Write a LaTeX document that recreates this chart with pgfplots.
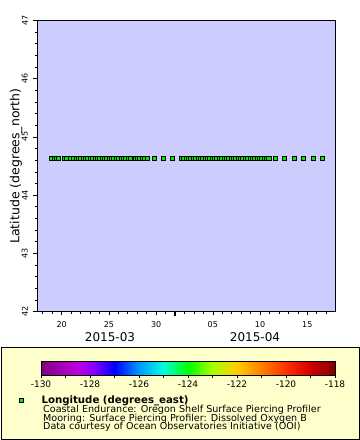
\documentclass[border=0pt]{standalone}
\usepackage{fontspec}
\setmainfont{DejaVu Sans}
\usepackage{pgfplots}
\pgfplotsset{compat=1.18}
\usepackage{pgfplotstable}
\pgfplotsset{/pgf/number format/assume math mode=true}

\definecolor{plotbg}{RGB}{204,204,255}
\definecolor{legbg}{RGB}{255,255,204}
\definecolor{mkgreen}{RGB}{0,235,0}

\pgfplotsset{
 colormap={erd}{rgb255(0)=(128,0,128) rgb255(15)=(192,0,224) rgb255(22)=(128,0,255) rgb255(30)=(0,0,255) rgb255(40)=(0,153,255) rgb255(50)=(0,255,221) rgb255(60)=(0,255,0) rgb255(70)=(170,255,0) rgb255(80)=(255,204,0) rgb255(90)=(255,128,0) rgb255(100)=(255,48,0) rgb255(110)=(208,0,0) rgb255(120)=(128,0,0)}
}

% x = day counted from 2015-03-00 (so 32 = 2015-04-01)
\pgfplotstableread{
x y
18.94 44.637
19.19 44.637
19.44 44.637
19.69 44.637
20.27 44.637
20.52 44.637
20.88 44.637
21.27 44.637
21.52 44.637
21.77 44.637
22.02 44.637
22.27 44.637
22.52 44.637
22.77 44.637
23.02 44.637
23.27 44.637
23.52 44.637
23.77 44.637
24.02 44.637
24.27 44.637
24.52 44.637
24.77 44.637
25.02 44.637
25.27 44.637
25.52 44.637
25.77 44.637
26.02 44.637
26.27 44.637
26.52 44.637
26.77 44.637
27.02 44.637
27.27 44.637
27.77 44.637
28.02 44.637
28.27 44.637
28.52 44.637
28.77 44.637
29.02 44.637
29.79 44.637
30.72 44.637
31.75 44.637
32.67 44.637
32.92 44.637
33.17 44.637
33.42 44.637
33.67 44.637
33.92 44.637
34.17 44.637
34.42 44.637
34.67 44.637
34.92 44.637
35.17 44.637
35.42 44.637
35.67 44.637
35.92 44.637
36.17 44.637
36.42 44.637
36.67 44.637
36.92 44.637
37.17 44.637
37.42 44.637
37.67 44.637
37.92 44.637
38.17 44.637
38.42 44.637
38.67 44.637
38.92 44.637
39.17 44.637
39.42 44.637
39.67 44.637
39.92 44.637
40.17 44.637
40.42 44.637
40.67 44.637
40.92 44.637
41.17 44.637
41.42 44.637
41.67 44.637
41.92 44.637
42.58 44.637
43.60 44.637
44.60 44.637
45.60 44.637
46.60 44.637
47.58 44.637
}\datatable

\begin{document}
\begin{tikzpicture}
\path[use as bounding box] (-37bp,-128.5bp) rectangle (323bp,311.5bp);
\filldraw[fill=legbg, draw=black, line width=0.8bp] (-36bp,-35.8bp) rectangle (322bp,-127.5bp);
\begin{axis}[
 scale only axis, width=298bp, height=291bp,
 xmin=17.39, xmax=48.93, ymin=42, ymax=47,
 axis background/.style={fill=plotbg},
 axis line style={line width=0.8bp},
 xtick={20,25,30,36,41,46}, xticklabels={20,25,30,05,10,15},
 minor xtick={18,...,48},
 ytick={42,...,47}, minor y tick num=4,
 extra x ticks={32}, extra x tick labels={},
 extra x tick style={major tick length=4.7bp, tick style={line width=2.7bp, black}},
 xtick pos=bottom, ytick pos=left, tick align=outside,
 major tick length=3.7bp, minor tick length=2.3bp,
 tick style={black, line width=0.6bp},
 ticklabel style={font=\fontsize{8bp}{9.6bp}\selectfont},
 xticklabel style={anchor=north, inner ysep=6bp, inner xsep=0pt},
 yticklabel style={rotate=90, anchor=south, inner ysep=5.3bp, inner xsep=0pt},
 ylabel={Latitude (degrees\_north)},
 ylabel style={font=\fontsize{12.5bp}{14bp}\selectfont, at={(axis description cs:-0.0705,0.5)}, anchor=center, rotate=0},
 legend style={at={(axis description cs:-0.0587,-0.304)}, anchor=west, draw=none, fill=none, inner sep=0pt, outer sep=0pt,
   nodes={inner sep=0pt, font=\bfseries\fontsize{10.2bp}{11bp}\selectfont},
   /tikz/every odd column/.append style={column sep=17.9bp}},
 legend cell align=left,
 legend image code/.code={\draw[#1] plot coordinates {(0bp,0bp)};},
 colorbar horizontal, colormap name=erd,
 point meta min=-130, point meta max=-118,
 colorbar style={
   at={(parent axis.south west)}, anchor=north west,
   xshift=4bp, yshift=-40.9bp,
   scale only axis, width=294bp, height=14.3bp,
   xtick={-130,-128,...,-118},
   xticklabels={-130,-128,-126,-124,-122,-120,-118},
   minor xtick={-129,-127,...,-119},
   extra x ticks={},
   xtick pos=bottom, tick align=outside,
   major tick length=2.3bp, minor tick length=2.3bp,
   tick style={black, line width=0.6bp},
   axis line style={line width=0.6bp},
   xticklabel style={font=\fontsize{9bp}{10bp}\selectfont, anchor=north, inner ysep=3.3bp, inner xsep=0pt},
 },
]
\addplot[only marks, mark=square*, mark size=2.05bp, mark options={fill=mkgreen, draw=black, line width=0.6bp}] table[x=x,y=y] {\datatable};
\addlegendentry{Longitude (degrees\_east)}
\end{axis}
\node[anchor=center, font=\fontsize{12bp}{14bp}\selectfont] at (73bp,-25.5bp) {2015-03};
\node[anchor=center, font=\fontsize{12bp}{14bp}\selectfont] at (218bp,-25.5bp) {2015-04};
\node[anchor=base west, inner xsep=0pt, font=\fontsize{9.6bp}{10bp}\selectfont] at (6bp,-100.8bp) {Coastal Endurance: Oregon Shelf Surface Piercing Profiler};
\node[anchor=base west, inner xsep=0pt, font=\fontsize{9.6bp}{10bp}\selectfont] at (6bp,-109.5bp) {Mooring: Surface Piercing Profiler: Dissolved Oxygen B};
\node[anchor=base west, inner xsep=0pt, font=\fontsize{9.6bp}{10bp}\selectfont] at (6bp,-117.8bp) {Data courtesy of Ocean Observatories Initiative (OOI)};
\end{tikzpicture}
\end{document}
